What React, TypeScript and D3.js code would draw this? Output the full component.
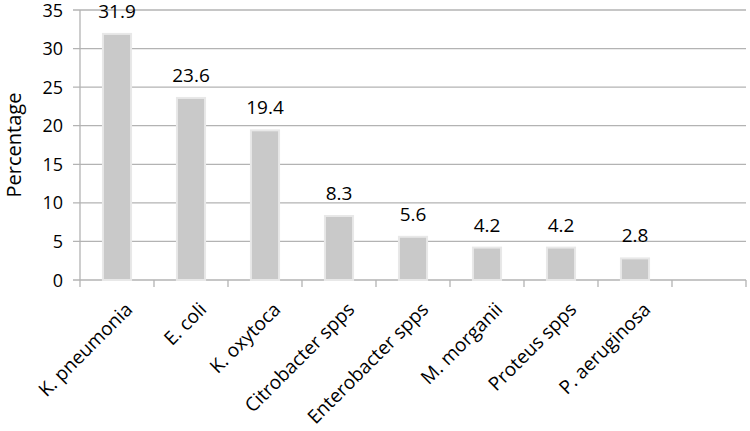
import React from "react";
import * as d3 from "d3";

const categories = [
  "K. pneumonia",
  "E. coli",
  "K. oxytoca",
  "Citrobacter spps",
  "Enterobacter spps",
  "M. morganii",
  "Proteus spps",
  "P. aeruginosa",
  "",
];
const values = [31.9, 23.6, 19.4, 8.3, 5.6, 4.2, 4.2, 2.8, null];
const yTicks = [0, 5, 10, 15, 20, 25, 30, 35];

const W = 750;
const H = 431;
const left = 80;
const right = 746;
const top = 10;
const bottom = 280;
const font = "'Open Sans', 'Liberation Sans', sans-serif";

export default function App() {
  const x = d3
    .scaleBand<number>()
    .domain(categories.map((_, i) => i))
    .range([left, right])
    .paddingInner(0)
    .paddingOuter(0);
  const y = d3.scaleLinear().domain([0, 35]).range([bottom, top]);
  const bw = x.bandwidth();
  const barW = bw * 0.38;

  return (
    <svg
      width={W}
      height={H}
      style={{ position: "absolute", left: 0, top: 0, background: "#fff" }}
    >
      {yTicks.map((t) => (
        <g key={t}>
          <line
            x1={left - 7}
            x2={right}
            y1={y(t)}
            y2={y(t)}
            stroke="#b3b3b3"
            strokeWidth={1.3}
          />
          <text
            x={63}
            y={y(t) + 6.5}
            textAnchor="end"
            fontFamily={font}
            fontSize={18}
            fill="#000"
          >
            {t}
          </text>
        </g>
      ))}
      <line x1={left} x2={left} y1={top} y2={bottom} stroke="#b3b3b3" strokeWidth={1.3} />
      {categories.map((_, i) => (
        <line
          key={"t" + i}
          x1={x(i) as number}
          x2={x(i) as number}
          y1={bottom}
          y2={bottom + 7}
          stroke="#b3b3b3"
          strokeWidth={1.3}
        />
      ))}
      <line x1={right} x2={right} y1={bottom} y2={bottom + 7} stroke="#b3b3b3" strokeWidth={1.3} />
      {values.map((v, i) =>
        v == null ? null : (
          <g key={"b" + i}>
            <rect
              x={(x(i) as number) + bw / 2 - barW / 2}
              y={y(v)}
              width={barW}
              height={bottom - y(v)}
              fill="#c9c9c9"
              stroke="#e8e8e8"
              strokeWidth={2}
            />
            <text
              x={(x(i) as number) + bw / 2}
              y={y(v) - 16}
              textAnchor="middle"
              fontFamily={font}
              fontSize={19}
              fill="#000"
            >
              {v.toFixed(1)}
            </text>
          </g>
        )
      )}
      {categories.map((c, i) =>
        c ? (
          <text
            key={"c" + i}
            transform={`translate(${(x(i) as number) + bw / 2 + 7},${bottom + 21}) rotate(-45)`}
            textAnchor="end"
            dy="0.72em"
            fontFamily={font}
            fontSize={19}
            fill="#000"
          >
            {c}
          </text>
        ) : null
      )}
      <text
        transform={`translate(14,${(top + bottom) / 2}) rotate(-90)`}
        textAnchor="middle"
        dy="0.35em"
        fontFamily={font}
        fontSize={20}
        fill="#000"
      >
        Percentage
      </text>
    </svg>
  );
}
